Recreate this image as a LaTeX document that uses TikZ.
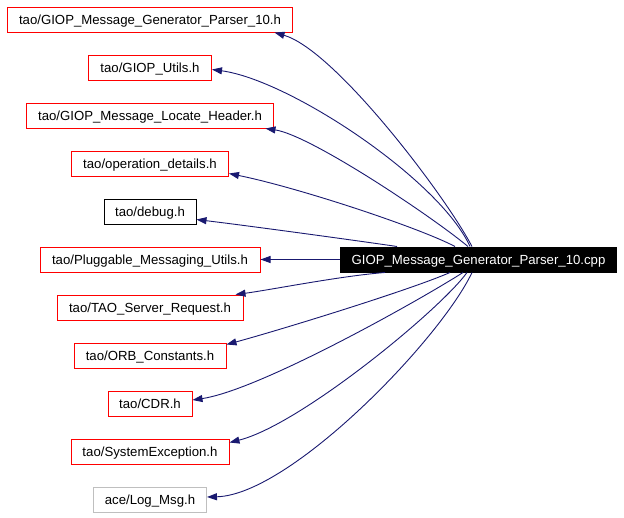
\documentclass[tikz,border=0pt]{standalone}
\usepackage{fontspec}
\setmainfont{Liberation Sans}
\usetikzlibrary{arrows.meta,calc}
\definecolor{edgeblue}{HTML}{191970}
\definecolor{boxgray}{HTML}{BFBFBF}
\tikzset{
  filebox/.style={draw=red, line width=1pt, minimum height=25pt, inner sep=0pt, text height=9.5pt, text depth=0pt, font=\fontsize{13.2}{15}\selectfont, text=black},
  blackbox/.style={filebox, draw=black},
  graybox/.style={filebox, draw=boxgray},
  mainbox/.style={draw=black, fill=black, text=white, line width=1pt, minimum height=25pt, inner sep=0pt, text height=9.5pt, text depth=0pt, font=\fontsize{13.2}{15}\selectfont},
  dep/.style={draw=edgeblue, line width=0.9pt, -{Triangle[length=10pt,width=7pt]}, color=edgeblue}
}
\begin{document}
\begin{tikzpicture}[x=1pt,y=-1pt]
\useasboundingbox (0,0) rectangle (624,517);
\node[mainbox, minimum width=276pt] (main) at (478.5,259.5) {GIOP\_Message\_Generator\_Parser\_10.cpp};
\node[filebox, minimum width=285pt] (n1) at (150,19.5) {tao/GIOP\_Message\_Generator\_Parser\_10.h};
\node[filebox, minimum width=123pt] (n2) at (150,67.5) {tao/GIOP\_Utils.h};
\node[filebox, minimum width=247pt] (n3) at (150,115.5) {tao/GIOP\_Message\_Locate\_Header.h};
\node[filebox, minimum width=157pt] (n4) at (150,163.5) {tao/operation\_details.h};
\node[blackbox, minimum width=92pt] (n5) at (150,211.5) {tao/debug.h};
\node[filebox, minimum width=220pt] (n6) at (150,259.5) {tao/Pluggable\_Messaging\_Utils.h};
\node[filebox, minimum width=186pt] (n7) at (150,307.5) {tao/TAO\_Server\_Request.h};
\node[filebox, minimum width=152pt] (n8) at (150,355.5) {tao/ORB\_Constants.h};
\node[filebox, minimum width=84pt] (n9) at (150,403.5) {tao/CDR.h};
\node[filebox, minimum width=158pt] (n10) at (150,451.5) {tao/SystemException.h};
\node[graybox, minimum width=113pt] (n11) at (150,499.5) {ace/Log\_Msg.h};

\draw[dep] ($(main.north)+(-6.5,0)$) .. controls (445,195) and (335,50) .. ($(n1.south east)+(-18.5,0)$);
\draw[dep] ($(main.north)+(-8.5,0)$) .. controls (440,180) and (290,80) .. ($(n2.east)+(0,2)$);
\draw[dep] ($(main.north)+(-10.5,0)$) .. controls (430,215) and (310,135) .. ($(n3.south east)+(-8.5,0)$);
\draw[dep] ($(main.north)+(-23.5,0)$) .. controls (420,228) and (300,188) .. ($(n4.south east)+(0,-3)$);
\draw[dep] ($(main.north)+(-81.5,0)$) .. controls (360,241) and (250,226) .. ($(n5.south east)+(0,-5)$);
\draw[dep] (main.west) -- (n6.east);
\draw[dep] ($(main.south)+(-93.5,0)$) .. controls (340,276) and (270,290) .. ($(n7.north east)+(-8,0)$);
\draw[dep] ($(main.south)+(-28.5,0)$) .. controls (410,290) and (280,330) .. ($(n8.north east)+(0,2)$);
\draw[dep] ($(main.south)+(-15.5,0)$) .. controls (420,300) and (260,390) .. ($(n9.east)+(0,-3.5)$);
\draw[dep] ($(main.south)+(-11.5,0)$) .. controls (440,310) and (300,425) .. ($(n10.north east)+(0,4)$);
\draw[dep] ($(main.south)+(-6.5,0)$) .. controls (440,340) and (290,495) .. ($(n11.east)+(0,-2.5)$);
\end{tikzpicture}
\end{document}
